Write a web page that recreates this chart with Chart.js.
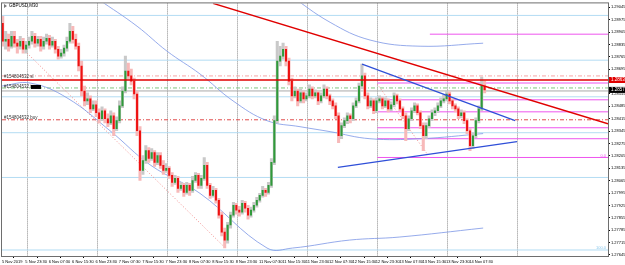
<!DOCTYPE html>
<html>
<head>
<meta charset="utf-8">
<script src="https://cdn.jsdelivr.net/npm/chart.js@4/dist/chart.umd.min.js"></script>
<style>
  html, body { margin: 0; padding: 0; background: #fff; }
  #wrap { width: 625px; height: 265px; }
</style>
</head>
<body>
<div id="wrap"><canvas id="chart"></canvas></div>
<script>
// GBPUSD M30, hourly candles (x in M30 bar units)
const opens = [1.28954,1.28853,1.28864,1.28825,1.28881,1.28842,1.28825,1.28853,1.28808,1.28831,
  1.28853,1.28881,1.28842,1.28864,1.28825,1.28853,1.28870,1.28831,1.28853,1.28808,
  1.28769,1.28786,1.28814,1.28853,1.28909,1.28864,1.28825,1.28713,1.28572,1.28516,
  1.28527,1.28471,1.28494,1.28449,1.28415,1.28460,1.28415,1.28392,1.28432,1.28359,
  1.28404,1.28488,1.28572,1.28685,1.28657,1.28628,1.28555,1.28347,1.28123,1.28179,
  1.28235,1.28190,1.28224,1.28168,1.28207,1.28151,1.28123,1.28134,1.28095,1.28055,
  1.28078,1.28021,1.28038,1.27999,1.28038,1.28010,1.28066,1.28095,1.28038,1.28078,
  1.28151,1.28038,1.27982,1.28010,1.27954,1.27870,1.27774,1.27729,1.27814,1.27870,
  1.27926,1.27898,1.27887,1.27937,1.27909,1.27870,1.27898,1.27926,1.27954,1.27982,
  1.28010,1.27999,1.28038,1.28168,1.28404,1.28741,1.28769,1.28808,1.28741,1.28628,
  1.28544,1.28572,1.28516,1.28561,1.28527,1.28544,1.28583,1.28544,1.28561,1.28516,
  1.28544,1.28583,1.28544,1.28516,1.28488,1.28432,1.28319,1.28376,1.28404,1.28432,
  1.28415,1.28488,1.28516,1.28600,1.28657,1.28544,1.28488,1.28516,1.28460,1.28516,
  1.28527,1.28488,1.28516,1.28471,1.28494,1.28544,1.28516,1.28471,1.28432,1.28359,
  1.28415,1.28460,1.28488,1.28449,1.28376,1.28319,1.28376,1.28415,1.28449,1.28460,
  1.28488,1.28516,1.28527,1.28555,1.28516,1.28488,1.28471,1.28432,1.28449,1.28404,
  1.28347,1.28263,1.28319,1.28404,1.28471,1.28600];
const highs = [1.28994,1.28909,1.28893,1.28909,1.28909,1.28864,1.28881,1.28870,1.28853,1.28876,
  1.28909,1.28898,1.28881,1.28881,1.28876,1.28893,1.28887,1.28876,1.28864,1.28825,
  1.28808,1.28831,1.28876,1.28954,1.28938,1.28893,1.28842,1.28741,1.28600,1.28561,
  1.28544,1.28516,1.28516,1.28471,1.28482,1.28471,1.28443,1.28460,1.28449,1.28426,
  1.28516,1.28595,1.28769,1.28730,1.28696,1.28645,1.28572,1.28370,1.28207,1.28263,
  1.28252,1.28246,1.28235,1.28224,1.28224,1.28179,1.28162,1.28145,1.28111,1.28095,
  1.28089,1.28055,1.28050,1.28055,1.28050,1.28089,1.28111,1.28106,1.28095,1.28196,
  1.28168,1.28050,1.28033,1.28021,1.27965,1.27887,1.27797,1.27830,1.27887,1.27943,
  1.27937,1.27920,1.27954,1.27948,1.27926,1.27915,1.27943,1.27971,1.27993,1.28033,
  1.28021,1.28055,1.28190,1.28432,1.28853,1.28825,1.28842,1.28825,1.28758,1.28645,
  1.28595,1.28583,1.28583,1.28572,1.28561,1.28606,1.28595,1.28578,1.28572,1.28561,
  1.28606,1.28595,1.28555,1.28527,1.28505,1.28449,1.28392,1.28420,1.28449,1.28443,
  1.28505,1.28533,1.28617,1.28724,1.28673,1.28561,1.28533,1.28527,1.28533,1.28544,
  1.28538,1.28533,1.28527,1.28510,1.28561,1.28555,1.28527,1.28482,1.28449,1.28432,
  1.28477,1.28505,1.28499,1.28460,1.28392,1.28392,1.28432,1.28465,1.28477,1.28505,
  1.28533,1.28550,1.28572,1.28567,1.28527,1.28499,1.28482,1.28465,1.28460,1.28415,
  1.28359,1.28336,1.28420,1.28488,1.28651,1.28628];
const lows = [1.28825,1.28808,1.28797,1.28814,1.28820,1.28786,1.28808,1.28786,1.28786,1.28814,
  1.28836,1.28820,1.28825,1.28797,1.28808,1.28836,1.28808,1.28820,1.28786,1.28752,
  1.28758,1.28769,1.28797,1.28842,1.28842,1.28808,1.28685,1.28544,1.28488,1.28494,
  1.28449,1.28460,1.28426,1.28392,1.28404,1.28392,1.28370,1.28381,1.28319,1.28347,
  1.28392,1.28477,1.28561,1.28640,1.28606,1.28527,1.28319,1.28066,1.28100,1.28162,
  1.28168,1.28179,1.28145,1.28156,1.28134,1.28100,1.28111,1.28078,1.28033,1.28044,
  1.27999,1.28010,1.27976,1.27988,1.27982,1.27999,1.28055,1.28021,1.28021,1.28066,
  1.28021,1.27965,1.27971,1.27937,1.27853,1.27752,1.27684,1.27712,1.27797,1.27859,
  1.27875,1.27864,1.27875,1.27887,1.27847,1.27859,1.27887,1.27915,1.27943,1.27971,
  1.27976,1.27988,1.28027,1.28156,1.28392,1.28713,1.28752,1.28713,1.28606,1.28516,
  1.28533,1.28488,1.28505,1.28505,1.28516,1.28533,1.28527,1.28533,1.28494,1.28505,
  1.28533,1.28527,1.28494,1.28471,1.28415,1.28280,1.28302,1.28364,1.28387,1.28392,
  1.28404,1.28477,1.28505,1.28583,1.28527,1.28471,1.28477,1.28443,1.28449,1.28505,
  1.28471,1.28477,1.28454,1.28460,1.28482,1.28499,1.28460,1.28415,1.28291,1.28347,
  1.28404,1.28449,1.28437,1.28359,1.28235,1.28302,1.28364,1.28404,1.28432,1.28449,
  1.28477,1.28505,1.28516,1.28499,1.28471,1.28454,1.28415,1.28420,1.28387,1.28331,
  1.28235,1.28246,1.28308,1.28392,1.28460,1.28561];
const closes = [1.28853,1.28864,1.28825,1.28881,1.28842,1.28825,1.28853,1.28808,1.28831,1.28853,
  1.28881,1.28842,1.28864,1.28825,1.28853,1.28870,1.28831,1.28853,1.28808,1.28769,
  1.28786,1.28814,1.28853,1.28909,1.28864,1.28825,1.28713,1.28572,1.28516,1.28527,
  1.28471,1.28494,1.28449,1.28415,1.28460,1.28415,1.28392,1.28432,1.28359,1.28404,
  1.28488,1.28572,1.28685,1.28657,1.28628,1.28555,1.28347,1.28123,1.28179,1.28235,
  1.28190,1.28224,1.28168,1.28207,1.28151,1.28123,1.28134,1.28095,1.28055,1.28078,
  1.28021,1.28038,1.27999,1.28038,1.28010,1.28066,1.28095,1.28038,1.28078,1.28151,
  1.28038,1.27982,1.28010,1.27954,1.27870,1.27774,1.27729,1.27814,1.27870,1.27926,
  1.27898,1.27887,1.27937,1.27909,1.27870,1.27898,1.27926,1.27954,1.27982,1.28010,
  1.27999,1.28038,1.28168,1.28404,1.28741,1.28769,1.28808,1.28741,1.28628,1.28544,
  1.28572,1.28516,1.28561,1.28527,1.28544,1.28583,1.28544,1.28561,1.28516,1.28544,
  1.28583,1.28544,1.28516,1.28488,1.28432,1.28319,1.28376,1.28404,1.28432,1.28415,
  1.28488,1.28516,1.28600,1.28657,1.28544,1.28488,1.28516,1.28460,1.28516,1.28527,
  1.28488,1.28516,1.28471,1.28494,1.28544,1.28516,1.28471,1.28432,1.28359,1.28415,
  1.28460,1.28488,1.28449,1.28376,1.28319,1.28376,1.28415,1.28449,1.28460,1.28488,
  1.28516,1.28527,1.28555,1.28516,1.28488,1.28471,1.28432,1.28449,1.28404,1.28347,
  1.28263,1.28319,1.28404,1.28471,1.28600,1.28578];

// axes
const priceTicks = [1.27645,1.27715,1.27785,1.27855,1.27925,1.27995,1.28065,1.28135,1.28205,1.28275,
  1.28345,1.28415,1.28485,1.28555,1.28625,1.28695,1.28765,1.28835,1.28905,1.28975,1.29045];
const timeTicks = [0,16,32,48,64,80,96,112,128,144,160,176,192,208,224,240,256,272,288,304,320];
const timeLabels = ['5 Nov 2019','5 Nov 23:30','6 Nov 07:30','6 Nov 15:30','6 Nov 23:30','7 Nov 07:30',
  '7 Nov 15:30','7 Nov 23:30','8 Nov 07:30','8 Nov 15:30','8 Nov 23:30','11 Nov 07:30','11 Nov 15:30',
  '11 Nov 23:30','12 Nov 07:30','12 Nov 15:30','12 Nov 23:30','13 Nov 07:30','13 Nov 15:30',
  '13 Nov 23:30','14 Nov 07:30'];
const daySeparators = [17,65,113,161,209,257,305,353];

// drawn objects (bar index, price)
const blueLevels = [1.28999,1.28746,1.28539,1.28336,1.28083,1.27673];
const fibLevels = [1.28617,1.28522,1.28454,1.28364,1.28302,1.28196];
const fibTopLevel = 1.28893;
const salmonLevel = 1.28657, redLevel = 1.28634, greenLevel = 1.28589, grayLevel = 1.28572, redDashLevel = 1.28409;
const redTrend = [[144.5,1.29067],[415,1.28387]];
const blueTrendUpper = [[246.6,1.28724],[351.4,1.28404]];
const blueTrendLower = [[230,1.28140],[352.7,1.28286]];
const pinkDotted1 = [[4,1.28893],[153,1.27684]];
const pinkDotted2 = [[257,1.28611],[291,1.28218]];
const bandUpper = [[196,1.29120],[224.7,1.28960],[252,1.28860],[286.3,1.28825],[329.5,1.28842]];
const bandMiddle = [[66,1.29090],[92.5,1.28938],[113,1.28797],[135.6,1.28668],[158.2,1.28516],[181.5,1.28404],
  [204.1,1.28370],[224.7,1.28342],[252,1.28302],[286.3,1.28302],[329.5,1.28331]];
const bandLower = [[0,1.28600],[19.2,1.28617],[44.5,1.28533],[74,1.28347],[102,1.28151],[135.6,1.27993],
  [181.5,1.27684],[199,1.27684],[238,1.27729],[272,1.27746],[329.5,1.27797]];
const levelTexts = [['100.0', 1.27673, '#8cc8ec'], ['0.0', 1.28196, '#ee55ee']];

const XMAX = 415;
const pts = a => a.map(p => ({x: p[0], y: p[1]}));
const line = (data, color, width, dash, order, tension) => ({
  type: 'line', data, borderColor: color, borderWidth: width, borderDash: dash || [],
  pointRadius: 0, fill: false, order, tension: tension || 0
});
const hline = (price, x0, x1, color, width, dash, order) => line([{x: x0, y: price}, {x: x1, y: price}], color, width, dash, order);

const up = closes.map((c, j) => c >= opens[j]);
const datasets = [];
blueLevels.forEach(p => datasets.push(hline(p, 0, XMAX, '#b3dcf3', 1, [], 20)));
datasets.push(hline(salmonLevel, 0, XMAX, '#f6a5a5', 1, [4, 2, 1, 2], 19));
datasets.push(hline(greenLevel, 0, XMAX, '#7fc47f', 1, [4, 2, 1, 2], 19));
datasets.push(hline(grayLevel, 0, XMAX, '#a9a9a9', 1, [], 19));
datasets.push(hline(redDashLevel, 0, XMAX, '#e04b4b', 1, [4, 2, 1, 2], 19));
fibLevels.forEach(p => datasets.push(hline(p, 257, XMAX, '#ee55ee', 1, [], 18)));
datasets.push(hline(fibTopLevel, 293, XMAX, '#ee55ee', 1, [], 18));
datasets.push(line(pts(bandUpper), '#7b96e6', 0.8, [], 17, 0.4));
datasets.push(line(pts(bandMiddle), '#7b96e6', 0.8, [], 17, 0.4));
datasets.push(line(pts(bandLower), '#7b96e6', 0.8, [], 17, 0.4));
datasets.push(line(pts(pinkDotted1), '#f08a8a', 1, [1, 2], 17));
datasets.push(line(pts(pinkDotted2), '#f08a8a', 1, [1, 2], 17));
datasets.push({
  type: 'bar', order: 11, grouped: false, barThickness: 2.4,
  data: opens.map((o, j) => ({x: 0.5 + 2 * j, y: [lows[j], highs[j]]})),
  backgroundColor: up.map(u => u ? '#c9c9c9' : '#f7b9b9')
});
datasets.push({
  type: 'bar', order: 10, grouped: false, barThickness: 1.4, minBarLength: 1,
  data: opens.map((o, j) => ({x: 0.5 + 2 * j, y: [o, closes[j]]})),
  backgroundColor: up.map(u => u ? '#2f9a3a' : '#ee1111')
});
datasets.push(hline(redLevel, 0, XMAX, '#e00000', 1.6, [], 2));
datasets.push(line(pts(redTrend), '#e00000', 1.5, [], 1));
datasets.push(line(pts(blueTrendUpper), '#2f4fd8', 1.2, [], 1));
datasets.push(line(pts(blueTrendLower), '#2f4fd8', 1.2, [], 1));

const FONT = '"Liberation Sans", Arial, sans-serif';
const overlay = {
  id: 'overlay',
  beforeDatasetsDraw(chart) {
    const {ctx, chartArea: a, scales: {x}} = chart;
    ctx.save();
    ctx.strokeStyle = '#8c8c8c';
    ctx.lineWidth = 1;
    ctx.setLineDash([1, 1]);
    daySeparators.forEach(b => {
      const px = Math.round(x.getPixelForValue(b)) + 0.5;
      ctx.beginPath(); ctx.moveTo(px, a.top); ctx.lineTo(px, a.bottom); ctx.stroke();
    });
    ctx.restore();
  },
  afterDraw(chart) {
    const {ctx, chartArea: a, scales: {y}} = chart;
    ctx.save();
    ctx.strokeStyle = '#6e6e6e';
    ctx.lineWidth = 1;
    ctx.strokeRect(a.left - 0.5, a.top - 0.5, a.right - a.left + 1, a.bottom - a.top + 1);
    ctx.font = '4.5px ' + FONT;
    ctx.textBaseline = 'middle';
    ctx.fillStyle = '#000';
    ctx.fillText('GBPUSD,M30', 9, 6);
    ctx.fillStyle = '#777';
    ctx.beginPath(); ctx.moveTo(4, 4); ctx.lineTo(7, 6); ctx.lineTo(4, 8); ctx.fill();
    // order labels on the left
    ctx.fillStyle = '#333';
    ctx.fillText('#154804532 sl', 4, y.getPixelForValue(salmonLevel) + 1);
    ctx.fillText('#154804532 tp', 4, y.getPixelForValue(greenLevel) - 1);
    ctx.fillStyle = '#000';
    ctx.fillRect(31, y.getPixelForValue(greenLevel) - 3, 10, 4);
    ctx.fillStyle = '#333';
    ctx.fillText('#154804532 buy', 4, y.getPixelForValue(redDashLevel) - 2);
    // level captions at the right end of the fibo lines
    ctx.font = '4px ' + FONT;
    ctx.textAlign = 'right';
    levelTexts.forEach(([t, p, c]) => {
      ctx.fillStyle = c;
      ctx.fillText(t, a.right - 2, y.getPixelForValue(p) - 2);
    });
    ctx.textAlign = 'left';
    ctx.font = '4.5px ' + FONT;
    // price tags on the axis
    const tag = (price, bg) => {
      const py = y.getPixelForValue(price);
      ctx.fillStyle = bg;
      ctx.fillRect(a.right + 1, py - 3, 16, 6);
      ctx.fillStyle = '#fff';
      ctx.fillText(price.toFixed(5), a.right + 3, py);
    };
    tag(redLevel, '#e00000');
    tag(closes[closes.length - 1], '#000');
    ctx.restore();
  }
};

new Chart(document.getElementById('chart'), {
  type: 'bar',
  data: {datasets},
  options: {
    responsive: true,
    maintainAspectRatio: false,
    animation: false,
    devicePixelRatio: 1,
    layout: {padding: {left: 2, top: 2, right: 0, bottom: 0}},
    plugins: {legend: {display: false}, tooltip: {enabled: false}},
    scales: {
      x: {
        type: 'linear', min: 0, max: XMAX, offset: false,
        afterFit: s => { s.height = 9; },
        afterBuildTicks: s => { s.ticks = timeTicks.map(v => ({value: v})); },
        ticks: {
          autoSkip: false, maxRotation: 0, align: 'start', padding: 1,
          font: {size: 4, family: FONT}, color: '#000',
          callback: (v, i) => timeLabels[i]
        },
        grid: {drawOnChartArea: false, tickLength: 2, color: '#000'},
        border: {display: true, color: '#6e6e6e'}
      },
      y: {
        type: 'linear', position: 'right', min: 1.27639, max: 1.29067,
        afterFit: s => { s.width = 17; },
        afterBuildTicks: s => { s.ticks = priceTicks.map(v => ({value: v})); },
        ticks: {
          autoSkip: false, padding: 1,
          font: {size: 4, family: FONT}, color: '#000',
          callback: v => v.toFixed(5)
        },
        grid: {drawOnChartArea: false, tickLength: 2, color: '#000'},
        border: {display: true, color: '#6e6e6e'}
      }
    }
  },
  plugins: [overlay]
});
</script>
</body>
</html>
